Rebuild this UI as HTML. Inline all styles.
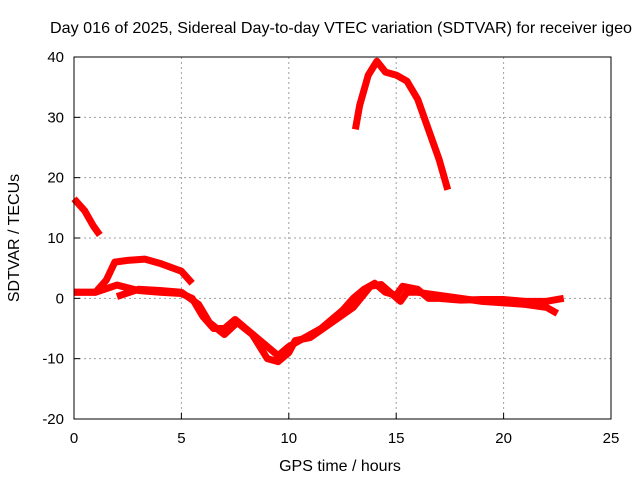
<!DOCTYPE html>
<html><head><meta charset="utf-8"><style>
body{margin:0;background:#fff}
svg{display:block;font-family:"Liberation Sans",sans-serif}
</style></head><body>
<svg id="chart" width="640" height="480" xmlns="http://www.w3.org/2000/svg">
<rect width="640" height="480" fill="#fff"/>
<text x="341" y="33" font-size="16" text-anchor="middle" fill="#000" textLength="582" lengthAdjust="spacingAndGlyphs">Day 016 of 2025, Sidereal Day-to-day VTEC variation (SDTVAR) for receiver igeo</text>
<g id="grid"></g>
<g id="series"></g>
<rect x="74" y="57" width="537" height="362" fill="none" stroke="#000" stroke-width="1"/>
<g id="axes"></g>
<text x="340" y="471" font-size="16" text-anchor="middle">GPS time / hours</text>
<text transform="translate(19,238) rotate(-90)" font-size="16" text-anchor="middle">SDTVAR / TECUs</text>
</svg>
<script>
const xTicks=[0,5,10,15,20,25];
const yTicks=[-20,-10,0,10,20,30,40];
const seriesA=[[0,16.5],[0.5,14.5],[0.9,12],[1.2,10.5]];
const seriesB=[[0,1],[1,1],[1.5,3],[1.9,6],[2.5,6.3],[3.3,6.5],[4,5.8],[5,4.5],[5.5,2.5]];
const seriesC=[[0,1],[1,1],[2,2.2],[3,1.3],[4,1],[5,0.8],[5.5,0],[6,-3],[6.5,-5],[7,-5],[7.5,-3.5],[8,-5],[8.5,-6.5],[9,-8],[9.5,-9.5],[10,-8],[10.5,-7],[11,-6],[11.5,-5],[12,-3.5],[12.5,-2],[13,0],[13.5,1.5],[14,2.5],[14.5,1],[15,0.5],[15.3,2],[16,1.5],[16.5,0],[17,0],[18,-0.3],[19,-0.2],[20,-0.2],[21,-0.5],[22,-0.5],[22.8,0]];
const seriesD=[[2,0.3],[3,1.5],[4,1.3],[5,1],[5.8,-1],[6.3,-4],[7,-6],[7.6,-4],[8.3,-6],[9,-10],[9.5,-10.5],[10,-9],[10.3,-7],[11,-6.5],[12,-4],[13,-1.5],[13.8,2],[14.3,2.3],[15.2,-0.5],[15.5,1],[16,1],[17,0.5],[19,-0.5],[21,-1],[22,-1.5],[22.5,-2.5]];
const seriesE=[[13.1,28],[13.3,32],[13.7,37],[14.1,39.3],[14.5,37.5],[15,37],[15.5,36],[16,33],[16.5,28],[17,23],[17.4,18]];
const allSeries=[seriesA,seriesB,seriesC,seriesD,seriesE];
const X=v=>74+v*(537/25);
const Y=v=>419-(v+20)*(362/60);
const NS="http://www.w3.org/2000/svg";
const grid=document.getElementById('grid'),axes=document.getElementById('axes'),ser=document.getElementById('series');
function mk(t,a){const e=document.createElementNS(NS,t);for(const k in a)e.setAttribute(k,a[k]);return e;}
xTicks.forEach(t=>{
 if(t>0&&t<25){const l=mk('line',{x1:X(t),x2:X(t),y1:57,y2:419,stroke:'#a0a0a0','stroke-dasharray':'2,3'});
 
 grid.appendChild(l);}
 const tk=mk('line',{x1:X(t),x2:X(t),y1:419,y2:413,stroke:'#000'});
 
 axes.appendChild(tk);
 const tx=mk('text',{x:X(t),y:443,'font-size':15,'text-anchor':'middle'});tx.textContent=t;
 
 axes.appendChild(tx);
});
yTicks.forEach(t=>{
 if(t>-20&&t<40){const l=mk('line',{x1:74,x2:611,y1:Y(t),y2:Y(t),stroke:'#a0a0a0','stroke-dasharray':'2,3'});
 
 grid.appendChild(l);}
 const tk=mk('line',{x1:74,x2:80,y1:Y(t),y2:Y(t),stroke:'#000'});
 
 axes.appendChild(tk);
 const tx=mk('text',{x:64,y:Y(t)+5,'font-size':15,'text-anchor':'end'});tx.textContent=t;
 
 axes.appendChild(tx);
});
allSeries.forEach((s,i)=>{
 const p=mk('polyline',{points:s.map(d=>X(d[0])+','+Y(d[1])).join(' '),fill:'none',stroke:'#ff0000','stroke-width':7,'stroke-linejoin':'round','stroke-linecap':'butt'});
 
 
 ser.appendChild(p);
});
</script>
</body></html>
